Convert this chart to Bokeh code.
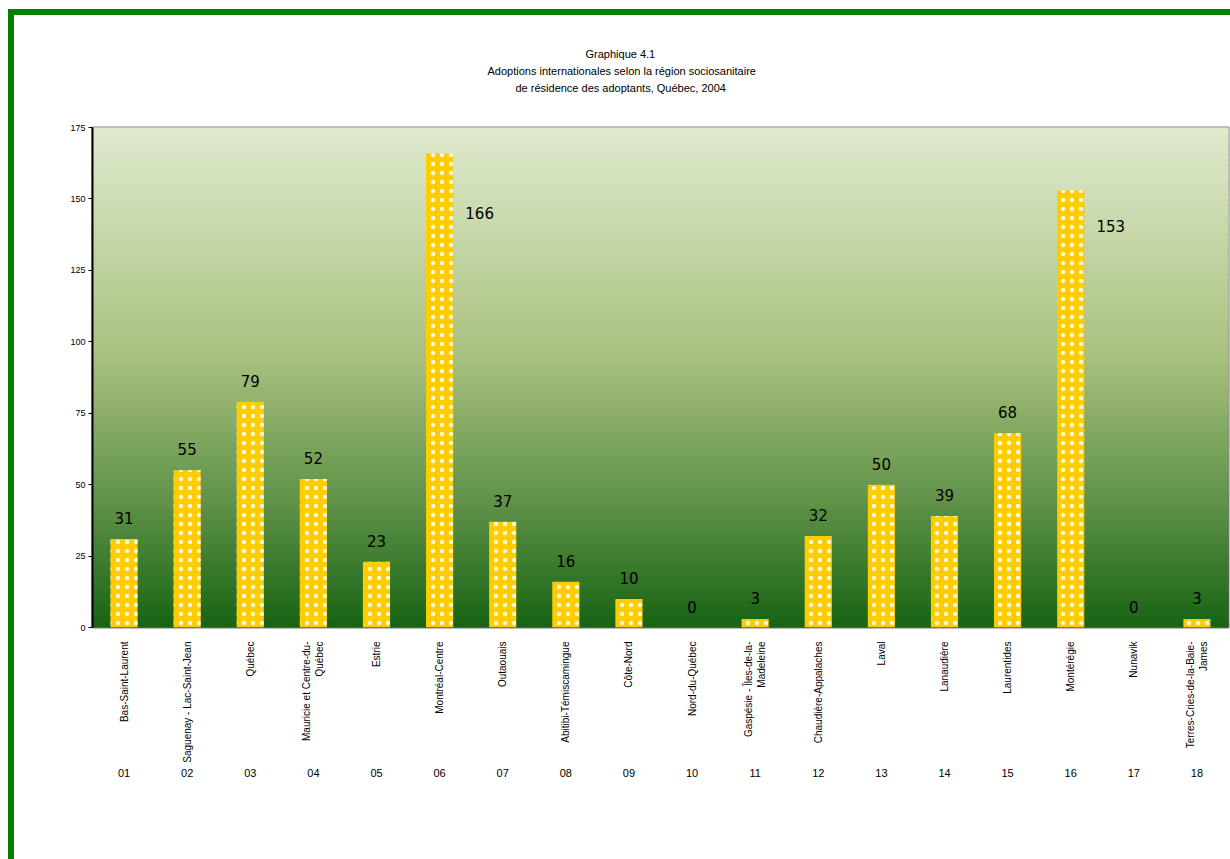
import math
from bokeh.plotting import figure
from bokeh.models import Range1d, FixedTicker, LinearAxis, Title, ColumnDataSource
from bokeh.core.properties import value
from bokeh.embed import file_html
from bokeh.resources import INLINE

codes = ["01", "02", "03", "04", "05", "06", "07", "08", "09",
         "10", "11", "12", "13", "14", "15", "16", "17", "18"]
regions = ["Bas-Saint-Laurent", "Saguenay - Lac-Saint-Jean", "Québec",
           "Mauricie et Centre-du-\nQuébec", "Estrie", "Montréal-Centre",
           "Outaouais", "Abitibi-Témiscamingue", "Côte-Nord", "Nord-du-Québec",
           "Gaspésie - Îles-de-la-\nMadeleine", "Chaudière-Appalaches", "Laval",
           "Lanaudière", "Laurentides", "Montérégie", "Nunavik",
           "Terres-Cries-de-la-Baie-\nJames"]
adoptions = [31, 55, 79, 52, 23, 166, 37, 16, 10, 0, 3, 32, 50, 39, 68, 153, 0, 3]
y_ticks = [0, 25, 50, 75, 100, 125, 150, 175]
title_lines = ["Graphique 4.1",
               "Adoptions internationales selon la région sociosanitaire",
               "de résidence des adoptants, Québec, 2004"]

SANS = "Liberation Sans"
positions = list(range(1, len(codes) + 1))

p = figure(width=1216, height=844, output_backend="svg", toolbar_location=None,
           x_range=Range1d(0.5, 18.5), y_range=Range1d(0, 175),
           min_border_left=78, min_border_top=112, min_border_right=2,
           min_border_bottom=232)
p.frame_width = 1136
p.frame_height = 500
p.styles = {"margin-left": "8px", "margin-top": "9px",
            "border-left": "6px solid #008000", "border-top": "6px solid #008000"}

p.xgrid.visible = False
p.ygrid.visible = False
p.outline_line_color = "#808080"
p.outline_line_width = 2
p.background_fill_color = "white"

# gradient background (style only)
stops = [(0.0, (223, 234, 206)), (0.45, (170, 194, 128)), (0.75, (96, 146, 72)), (1.0, (24, 100, 20))]
def grad(t):
    for (t0, c0), (t1, c1) in zip(stops[:-1], stops[1:]):
        if t0 <= t <= t1:
            f = (t - t0) / (t1 - t0)
            return "#%02x%02x%02x" % tuple(int(round(a + (b - a) * f)) for a, b in zip(c0, c1))
    return "#%02x%02x%02x" % stops[-1][1]
N = 100
tops, bots, cols = [], [], []
for i in range(N):
    y1 = 175 - 175 * i / N
    y0 = 175 - 175 * (i + 1) / N
    tops.append(y1)
    bots.append(y0)
    cols.append(grad((i + 0.5) / N))
p.quad(left=0.5, right=18.5, top=tops, bottom=bots, fill_color=cols, line_color=cols,
       line_width=1.5)

src = ColumnDataSource(dict(x=positions, v=adoptions, lab=[str(a) for a in adoptions]))
p.vbar(x="x", top="v", width=0.43, bottom=0, source=src, fill_color="#ffcc00", line_color=None,
       hatch_pattern="dot", hatch_color="white", hatch_scale=9, hatch_weight=0.9,
       hatch_alpha=0.85)

# value labels
xo, yo = [], []
for v in adoptions:
    if v > 140:
        xo.append(40)
        yo.append(60 if v > 160 else 36)
    else:
        xo.append(0)
        yo.append(-21)
src.data["xo"] = xo
src.data["yo"] = yo
p.text(x="x", y="v", text="lab", source=src, x_offset="xo", y_offset="yo",
       text_align="center", text_baseline="middle", text_font=value("DejaVu Sans"),
       text_font_size="15px", text_color="black")

# y axis
ya = p.yaxis[0]
ya.ticker = FixedTicker(ticks=y_ticks)
ya.axis_line_color = "black"
ya.axis_line_width = 2
ya.major_tick_in = 0
ya.major_tick_out = 4
ya.minor_tick_line_color = None
ya.major_label_text_font = SANS
ya.major_label_text_font_size = "9px"
ya.major_label_text_color = "black"
ya.major_label_standoff = 3

# names axis
xa = p.xaxis[0]
xa.ticker = FixedTicker(ticks=positions)
xa.major_label_overrides = {i: r for i, r in zip(positions, regions)}
xa.major_label_orientation = math.pi / 2
xa.axis_line_color = None
xa.major_tick_line_color = None
xa.minor_tick_line_color = None
xa.major_label_text_font = SANS
xa.major_label_text_font_size = "10px"
xa.major_label_text_color = "black"
xa.major_label_standoff = 8

# code axis
ca = LinearAxis(ticker=FixedTicker(ticks=positions),
                major_label_overrides={i: c for i, c in zip(positions, codes)})
ca.axis_line_color = None
ca.major_tick_line_color = None
ca.minor_tick_line_color = None
ca.major_label_text_font = SANS
ca.major_label_text_font_size = "11px"
ca.major_label_text_color = "black"
ca.major_label_standoff = -3
p.add_layout(ca, "below")

# title: spacer first (nearest the frame), then lines from bottom to top
p.add_layout(Title(text=" ", text_font_size="11px", standoff=18), "above")
for line, off in zip(reversed(title_lines), [423, 395, 493]):
    p.add_layout(Title(text=line, align="left", offset=off, standoff=3,
                       text_font=SANS, text_font_size="11px", text_font_style="normal",
                       text_color="black"), "above")

open("out.html", "w").write(file_html(p, INLINE))
